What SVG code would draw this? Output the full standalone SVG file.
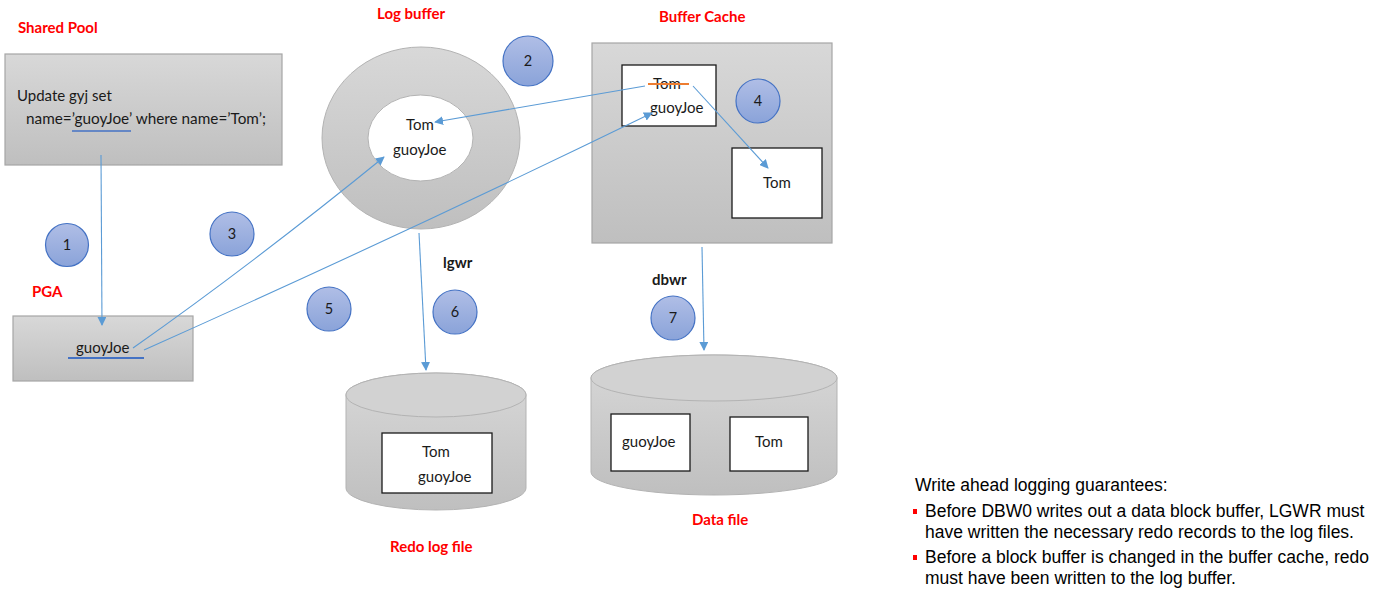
<svg xmlns="http://www.w3.org/2000/svg" width="1373" height="591" viewBox="0 0 1373 591">
<defs>
<linearGradient id="gray" x1="0" y1="0" x2="0" y2="1">
<stop offset="0" stop-color="#d8d8d8"/><stop offset="1" stop-color="#bfbfbf"/>
</linearGradient>
<linearGradient id="blue" x1="0" y1="0" x2="0" y2="1">
<stop offset="0" stop-color="#b0bee6"/><stop offset="1" stop-color="#8aa3d9"/>
</linearGradient>
<marker id="ah" viewBox="0 0 10 10" refX="9" refY="5" markerWidth="9" markerHeight="9" markerUnits="userSpaceOnUse" orient="auto">
<path d="M0,0 L10,5 L0,10 Z" fill="#5b9bd5"/>
</marker>
<style>
.box{fill:url(#gray);stroke:#a6a6a6;stroke-width:1.2}
.wbox{fill:#fff;stroke:#1a1a1a;stroke-width:1.3}
.num{fill:url(#blue);stroke:#4472c4;stroke-width:1.2}
.t{font-family:Lato,"Liberation Sans",sans-serif;font-size:15px;fill:#1a1a1a}
.nt{font-family:Lato,"Liberation Sans",sans-serif;font-size:14.5px;fill:#1a1a1a;text-anchor:middle}
.red{font-family:Lato,"Liberation Sans",sans-serif;font-size:15px;font-weight:bold;fill:#ff0000}
.blk{font-family:Lato,"Liberation Sans",sans-serif;font-size:15px;font-weight:bold;fill:#1a1a1a}
.con{fill:none;stroke:#5b9bd5;stroke-width:1.1}
.note{font-family:"Liberation Sans",Arial,sans-serif;font-size:17.5px;fill:#000}
</style>
</defs>

<g id="shared-pool">
<text class="red" x="18" y="33">Shared Pool</text>
<rect class="box" x="5" y="54" width="277" height="111"/>
<text class="t" x="17" y="101">Update gyj set</text>
<text class="t" x="26" y="124" textLength="240" lengthAdjust="spacingAndGlyphs">name=’guoyJoe’ where name=’Tom’;</text>
<line x1="72" y1="131" x2="131" y2="131" stroke="#4472c4" stroke-width="1.5"/>
</g>

<g id="pga">
<text class="red" x="32" y="297">PGA</text>
<rect class="box" x="13" y="316" width="180" height="65"/>
<text class="t" x="76" y="353">guoyJoe</text>
<line x1="68" y1="358" x2="144" y2="358" stroke="#4472c4" stroke-width="2"/>
</g>

<g id="log-buffer">
<text class="red" x="377" y="19">Log buffer</text>
<path d="M322,138 a99,91 0 1,0 198,0 a99,91 0 1,0 -198,0 Z M368,138 a52.5,43 0 1,1 105,0 a52.5,43 0 1,1 -105,0 Z" fill="url(#gray)" fill-rule="evenodd" stroke="#b3b3b3" stroke-width="1"/>
<text class="t" x="406" y="130">Tom</text>
<text class="t" x="393" y="155">guoyJoe</text>
</g>

<g id="buffer-cache">
<text class="red" x="659" y="22">Buffer Cache</text>
<rect class="box" x="592" y="43" width="240" height="200"/>
<rect class="wbox" x="622" y="65" width="94" height="61"/>
<text class="t" x="653" y="89">Tom</text>
<line x1="648" y1="84" x2="689" y2="84" stroke="#ed7d31" stroke-width="2"/>
<text class="t" x="650" y="113">guoyJoe</text>
<rect class="wbox" x="732" y="148" width="90" height="70"/>
<text class="t" x="763" y="188">Tom</text>
</g>

<g id="redo-log-file">
<path d="M346,395 L346,488 A90,22 0 0,0 526,488 L526,395 A90,22 0 0,0 346,395 Z" fill="url(#gray)" stroke="#b3b3b3" stroke-width="1"/>
<ellipse cx="436" cy="395" rx="90" ry="22" fill="#d2d2d2" stroke="#b3b3b3" stroke-width="1"/>
<rect class="wbox" x="382" y="433" width="110" height="60"/>
<text class="t" x="422" y="457">Tom</text>
<text class="t" x="418" y="482">guoyJoe</text>
<text class="red" x="390" y="552">Redo log file</text>
</g>

<g id="data-file">
<path d="M591,378 L591,472 A123,23 0 0,0 837,472 L837,378 A123,23 0 0,0 591,378 Z" fill="url(#gray)" stroke="#b3b3b3" stroke-width="1"/>
<ellipse cx="714" cy="378" rx="123" ry="23" fill="#d2d2d2" stroke="#b3b3b3" stroke-width="1"/>
<rect class="wbox" x="611" y="414" width="79" height="57"/>
<text class="t" x="622" y="447">guoyJoe</text>
<rect class="wbox" x="730" y="417" width="78" height="54"/>
<text class="t" x="755" y="447">Tom</text>
<text class="red" x="692" y="525">Data file</text>
</g>

<g id="labels">
<text class="blk" x="443" y="268">lgwr</text>
<text class="blk" x="652" y="285">dbwr</text>
</g>

<g id="steps">
<g id="step1"><circle class="num" cx="67" cy="245" r="21.5"/><text class="nt" x="67" y="250">1</text></g>
<g id="step2"><circle class="num" cx="528" cy="61" r="25"/><text class="nt" x="528" y="66">2</text></g>
<g id="step3"><circle class="num" cx="232" cy="234" r="22"/><text class="nt" x="232" y="239">3</text></g>
<g id="step4"><circle class="num" cx="758" cy="101" r="22"/><text class="nt" x="758" y="106">4</text></g>
<g id="step5"><circle class="num" cx="329" cy="309" r="22"/><text class="nt" x="329" y="314">5</text></g>
<g id="step6"><circle class="num" cx="455" cy="312" r="22"/><text class="nt" x="455" y="317">6</text></g>
<g id="step7"><circle class="num" cx="673" cy="318" r="22"/><text class="nt" x="673" y="323">7</text></g>
</g>

<g id="connectors">
<path class="con" d="M101,155 L102,325" marker-end="url(#ah)"/>
<path class="con" d="M133,348 Q255,262 384,157" marker-end="url(#ah)"/>
<path class="con" d="M144,350 Q395,238 652,113" marker-end="url(#ah)"/>
<path class="con" d="M645,86 L435,122" marker-end="url(#ah)"/>
<path class="con" d="M693,86 L768,168" marker-end="url(#ah)"/>
<path class="con" d="M419,233 L426,370" marker-end="url(#ah)"/>
<path class="con" d="M702,247 L704,350" marker-end="url(#ah)"/>
</g>

<g id="notes">
<text class="note" x="915" y="491">Write ahead logging guarantees:</text>
<rect x="913" y="509" width="4" height="5" fill="#ff0000"/>
<text class="note" x="925" y="517">Before DBW0 writes out a data block buffer, LGWR must</text>
<text class="note" x="925" y="538">have written the necessary redo records to the log files.</text>
<rect x="913" y="555" width="4" height="5" fill="#ff0000"/>
<text class="note" x="925" y="563">Before a block buffer is changed in the buffer cache, redo</text>
<text class="note" x="925" y="584">must have been written to the log buffer.</text>
</g>
</svg>
